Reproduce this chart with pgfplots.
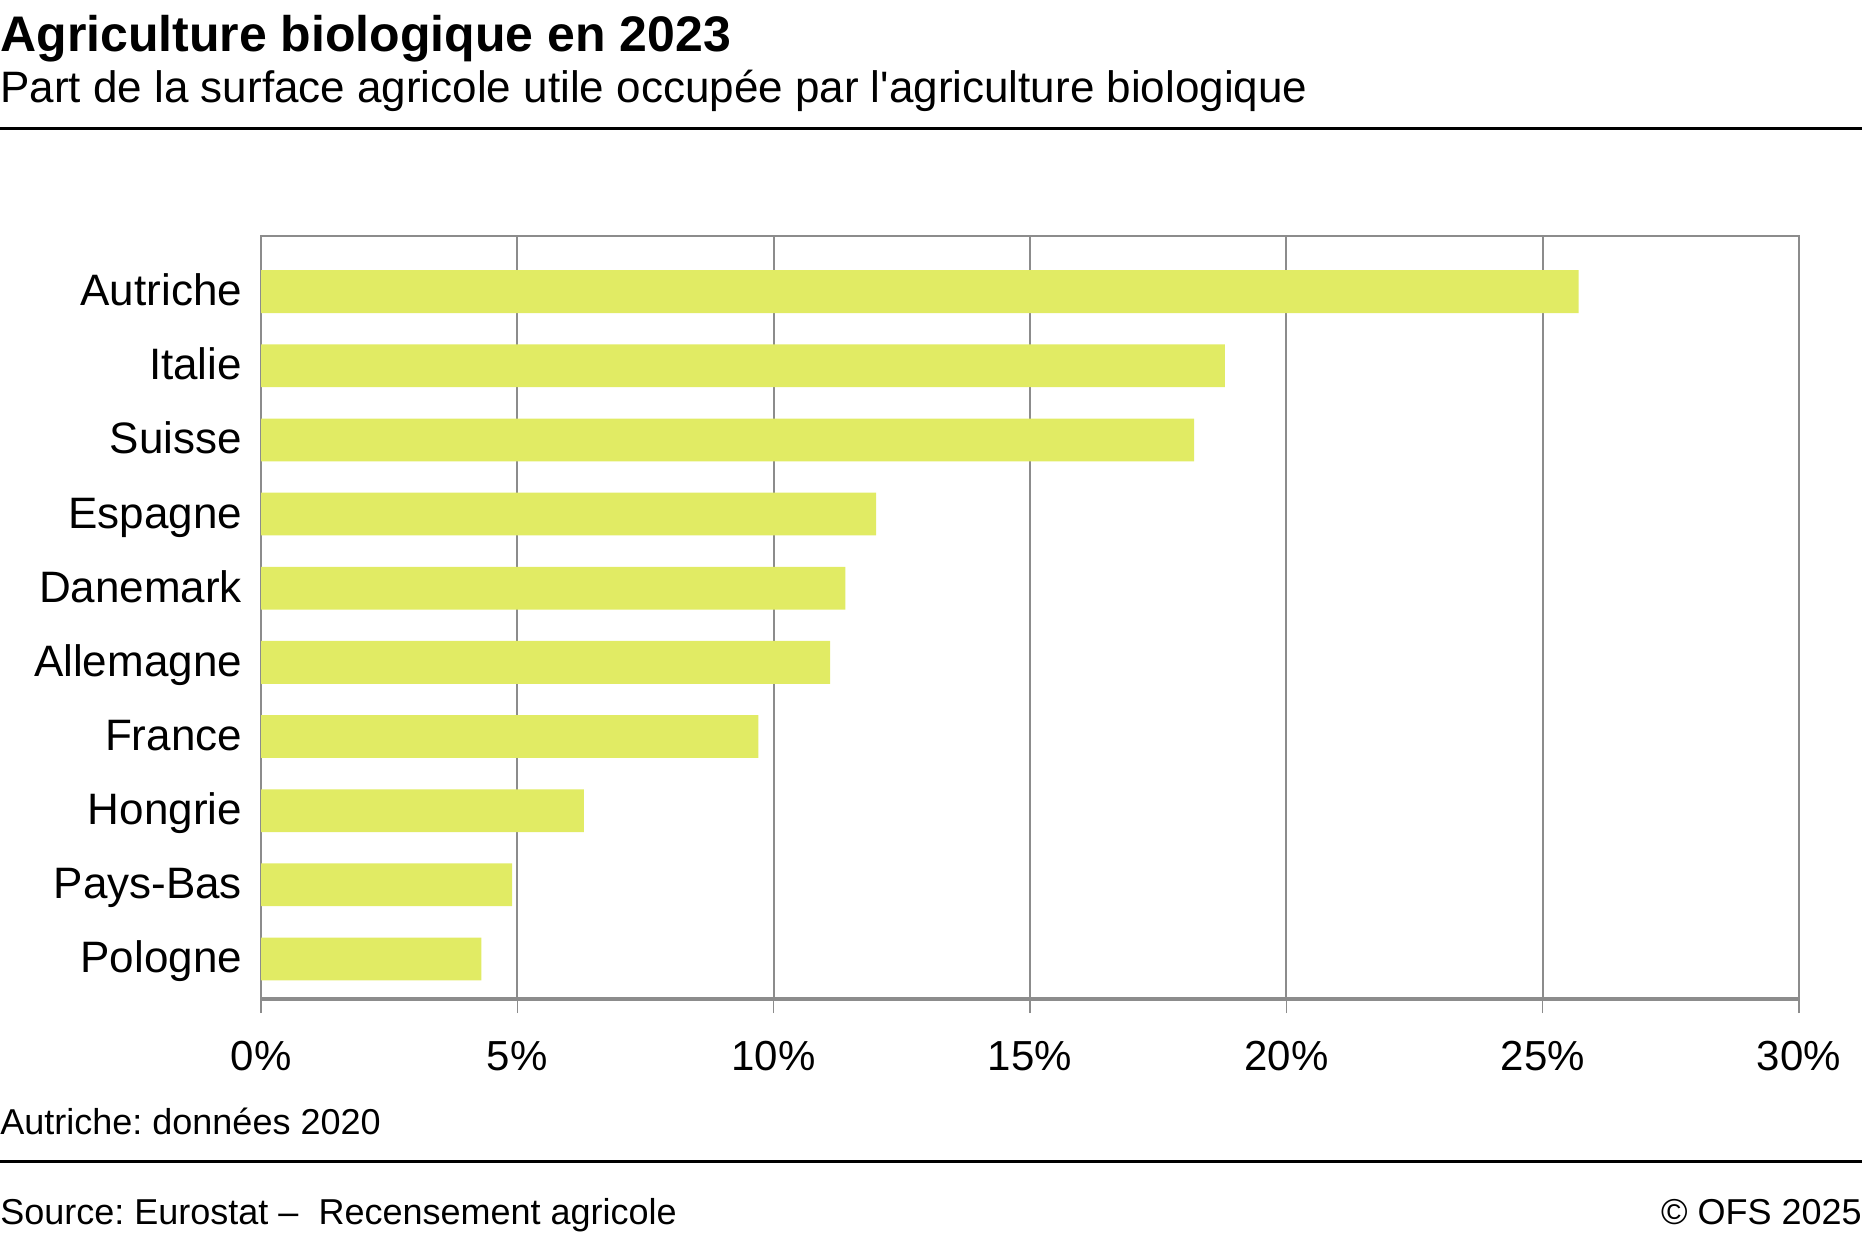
\documentclass[border=0pt]{standalone}
\usepackage{pgfplots}
\pgfplotsset{compat=1.18}
\usepackage{fontspec}
\setmainfont{Liberation Sans}
\definecolor{barc}{RGB}{225,235,100}
\definecolor{axgray}{RGB}{140,140,140}
\frenchspacing
\begin{document}
\begin{tikzpicture}
\useasboundingbox (0,0) rectangle (931bp,-618bp);
\node[anchor=base west,inner sep=0] at (0,-25.5bp) {\fontsize{25bp}{30bp}\selectfont\bfseries Agriculture biologique en 2023};
\node[anchor=base west,inner sep=0] at (0,-51bp) {\fontsize{22bp}{26bp}\selectfont Part de la surface agricole utile occupée par l\textquotesingle agriculture biologique};
\fill[black] (0,-63.25bp) rectangle (931bp,-64.75bp);
\begin{axis}[
  at={(130.5bp,-499.5bp)}, anchor=south west,
  scale only axis, width=769bp, height=381.5bp,
  xbar, bar width=21.4bp,
  xmin=0, xmax=30, ymin=-0.54, ymax=9.75,
  ytick={0,...,9},
  yticklabels={Pologne,Pays-Bas,Hongrie,France,Allemagne,Danemark,Espagne,Suisse,Italie,Autriche},
  xtick={0,5,...,30},
  /pgf/number format/assume math mode=true,
  xticklabel={\pgfmathprintnumber{\tick}\%},
  xtick pos=left, xtick align=outside,
  major x tick style={axgray, line width=0.6bp},
  x tick label style={font=\fontsize{21bp}{25bp}\selectfont, yshift=-10.7bp},
  y tick label style={font=\fontsize{22bp}{26bp}\selectfont, anchor=base east, inner sep=0pt, xshift=-2.3bp, yshift=-7bp},
  major tick length=7bp,
  ytick style={draw=none},
  xmajorgrids, grid style={axgray, line width=0.9bp},
  axis line style={axgray, line width=0.9bp},
  clip=false,
]
\addplot[fill=barc, draw=none] coordinates {
(4.3,0) (4.9,1) (6.3,2) (9.7,3) (11.1,4) (11.4,5) (12.0,6) (18.2,7) (18.8,8) (25.7,9)};
\draw[axgray, line width=1.6bp] (rel axis cs:0,0) -- (rel axis cs:1,0);
\end{axis}
\node[anchor=base west,inner sep=0] at (0,-567bp) {\fontsize{18bp}{22bp}\selectfont Autriche: données 2020};
\fill[black] (0,-579.75bp) rectangle (931bp,-581.25bp);
\node[anchor=base west,inner sep=0] at (0,-612bp) {\fontsize{18bp}{22bp}\selectfont Source: Eurostat –\ \ Recensement agricole};
\node[anchor=base east,inner sep=0] at (931bp,-612bp) {\fontsize{18bp}{22bp}\selectfont © OFS 2025};
\end{tikzpicture}
\end{document}
